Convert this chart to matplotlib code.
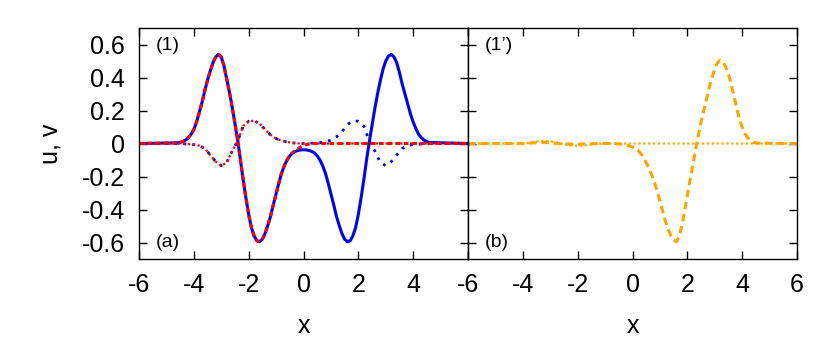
import numpy as np
import matplotlib
matplotlib.use("Agg")
import matplotlib.pyplot as plt

plt.rcParams['font.family'] = ['Liberation Sans', 'DejaVu Sans']
plt.rcParams['axes.unicode_minus'] = False

# siatka zgrubna (krzywe kropkowane): -6 .. 6 co 0.2
x = np.round(np.arange(-6.0, 6.0001, 0.2), 1)
# siatka gęsta (krzywe u): -6, -4.6 .. 4.6 co 0.1, 6
xf = np.concatenate([[-6.0], np.round(np.arange(-4.6, 4.6001, 0.1), 1), [6.0]])

# (a) niebieska ciagla - u
u_blue = [0,
          0.004, 0.007, 0.012, 0.021, 0.035, 0.056, 0.085, 0.13, 0.19, 0.25,
          0.32, 0.385, 0.44, 0.49, 0.525, 0.54, 0.525, 0.47, 0.39, 0.31,
          0.22, 0.12, 0.02, -0.10, -0.22, -0.33, -0.43, -0.51, -0.56, -0.59,
          -0.595, -0.58, -0.545, -0.495, -0.44, -0.37, -0.305, -0.24, -0.18, -0.135,
          -0.10, -0.075, -0.058, -0.048, -0.042, -0.039, -0.038, -0.039, -0.042, -0.048,
          -0.058, -0.075, -0.10, -0.135, -0.18, -0.24, -0.305, -0.37, -0.44, -0.495,
          -0.545, -0.58, -0.595, -0.59, -0.56, -0.51, -0.43, -0.33, -0.22, -0.10,
          0.01, 0.11, 0.21, 0.30, 0.38, 0.45, 0.50, 0.53, 0.54, 0.525,
          0.49, 0.43, 0.36, 0.30, 0.24, 0.18, 0.13, 0.09, 0.055, 0.035,
          0.02, 0.011, 0.006,
          0]
# (a) czerwona przerywana
u_red = [0,
         0.004, 0.007, 0.012, 0.021, 0.035, 0.056, 0.085, 0.13, 0.19, 0.25,
         0.32, 0.385, 0.44, 0.49, 0.525, 0.54, 0.525, 0.47, 0.39, 0.31,
         0.22, 0.12, 0.02, -0.10, -0.22, -0.33, -0.43, -0.51, -0.56, -0.59,
         -0.595, -0.58, -0.545, -0.495, -0.44, -0.37, -0.305, -0.24, -0.18, -0.135,
         -0.10, -0.075, -0.055, -0.042, -0.031, -0.02, -0.012, -0.007, -0.004, -0.002,
         0, 0, 0, 0, 0, 0, 0, 0, 0, 0,
         0, 0, 0, 0, 0, 0, 0, 0, 0, 0,
         0, 0, 0, 0, 0, 0, 0, 0, 0, 0,
         0, 0, 0, 0, 0, 0, 0, 0, 0, 0,
         0, 0, 0,
         0]
# (a) niebieska kropkowana - v
v_blue = [0, 0, 0, 0, 0, 0, 0,
          -0.001, -0.002, -0.004, -0.007, -0.013, -0.03, -0.07, -0.11, -0.135,
          -0.115, -0.045, 0.015, 0.105, 0.135, 0.138, 0.12, 0.085, 0.052,
          0.03, 0.017, 0.009, 0.004, 0.001,
          0.0,
          0.001, 0.003, 0.005, 0.01, 0.02, 0.04, 0.07, 0.115, 0.138, 0.135,
          0.105, 0.015, -0.045, -0.115, -0.135, -0.11, -0.07, -0.03, -0.013,
          -0.007, -0.004, -0.002, -0.001,
          0, 0, 0, 0, 0, 0, 0]
# (a) czerwona kropkowana
v_red = [0, 0, 0, 0, 0, 0, 0,
         -0.001, -0.002, -0.004, -0.007, -0.013, -0.03, -0.07, -0.11, -0.135,
         -0.115, -0.045, 0.015, 0.105, 0.135, 0.138, 0.12, 0.085, 0.052,
         0.03, 0.017, 0.009, 0.004, 0.001,
         0.0,
         0, 0, 0, 0, 0, 0, 0, 0, 0, 0,
         0, 0, 0, 0, 0, 0, 0, 0, 0,
         0, 0, 0, 0,
         0, 0, 0, 0, 0, 0, 0]
# (b) pomaranczowa przerywana
u_orange = [0,
            0, 0, 0, 0, 0, 0, 0, 0.001, 0.002, 0.003,
            0.004, 0.005, 0.005, 0.006, 0.006, 0.005, 0.004, 0.003, 0.001, 0,
            -0.001, -0.002, -0.003, -0.004, -0.004, -0.005, -0.005, -0.004, -0.003, -0.002,
            -0.002, -0.001, -0.001, 0, 0, 0, 0, 0, 0, -0.001,
            -0.002, -0.003, -0.005, -0.008, -0.011, -0.015, -0.021, -0.03, -0.042, -0.06,
            -0.085, -0.115, -0.15, -0.19, -0.235, -0.29, -0.35, -0.41, -0.47, -0.52,
            -0.56, -0.585, -0.595, -0.565, -0.50, -0.41, -0.315, -0.22, -0.13, -0.04,
            0.05, 0.13, 0.20, 0.27, 0.34, 0.40, 0.45, 0.49, 0.505, 0.495,
            0.465, 0.42, 0.36, 0.29, 0.215, 0.15, 0.10, 0.06, 0.035, 0.018,
            0.008, 0.004, 0.002,
            0]
# (b) pomaranczowa kropkowana
v_orange = [0, 0, 0, 0, 0, 0, 0,
            0, 0, 0, 0, 0.004, 0.01, 0.015, 0.016, 0.014, 0.008,
            0.0, -0.008, -0.012, -0.013, -0.012, -0.009, -0.005, -0.002, 0,
            0, 0, 0, 0,
            0,
            0, 0, 0, 0, 0, 0, 0, 0, 0,
            0, 0, 0, 0, 0, 0, 0, 0, 0, 0,
            0, 0, 0, 0,
            0, 0, 0, 0, 0, 0, 0]

xticks = [-6, -4, -2, 0, 2, 4, 6]
xticklabels_a = ["-6", "-4", "-2", "0", "2", "4", ""]
xticklabels_b = ["-6", "-4", "-2", "0", "2", "4", "6"]
yticks = [-0.6, -0.4, -0.2, 0, 0.2, 0.4, 0.6]
yticklabels = ["-0.6", "-0.4", "-0.2", "0", "0.2", "0.4", "0.6"]

fig = plt.figure(figsize=(8.22, 3.46), dpi=100)
ax1 = fig.add_axes([139/822, 1-259/346, 329/822, 231/346])
ax2 = fig.add_axes([468/822, 1-259/346, 329/822, 231/346])

kw = dict(solid_joinstyle="round", dash_joinstyle="round")
ax1.plot(xf, u_blue, "-", color="#0000ff", linewidth=2.2, **kw)
ax1.plot(x, v_blue, ":", color="#0000ff", linewidth=2.0, dashes=(1, 2.2), **kw)
ax1.plot(xf, u_red, "--", color="#ff0000", linewidth=2.2, dashes=(1.5, 1.2), **kw)
ax1.plot(x, v_red, ":", color="#ff0000", linewidth=1.6, dashes=(1, 1.2), **kw)

ax2.plot(xf, u_orange, "--", color="#ffa500", linewidth=2.2, dashes=(2.5, 1.5), **kw)
ax2.plot(x, v_orange, ":", color="#ffa500", linewidth=1.6, dashes=(1, 1.2), **kw)

for ax in (ax1, ax2):
    ax.set_xlim(-6, 6)
    ax.set_ylim(-0.7, 0.7)
    ax.set_xticks(xticks)
    ax.set_yticks(yticks)
    ax.tick_params(direction="in", top=True, right=True, length=6,
                   width=1, labelsize=18, pad=10)
    ax.set_xlabel("x", fontsize=18, labelpad=12)
    for s in ax.spines.values():
        s.set_linewidth(1)

ax1.set_xticklabels(xticklabels_a)
ax2.set_xticklabels(xticklabels_b)
ax1.set_yticklabels(yticklabels)
ax2.set_yticklabels([])
ax1.set_ylabel("u, v", fontsize=18, labelpad=14)

ax1.text(0.05, 0.925, "(1)", transform=ax1.transAxes, fontsize=14, va="center")
ax1.text(0.05, 0.07, "(a)", transform=ax1.transAxes, fontsize=14, va="center")
ax2.text(0.05, 0.925, "(1\u2019)", transform=ax2.transAxes, fontsize=14, va="center")
ax2.text(0.05, 0.07, "(b)", transform=ax2.transAxes, fontsize=14, va="center")

plt.savefig("out.png", dpi=100)
